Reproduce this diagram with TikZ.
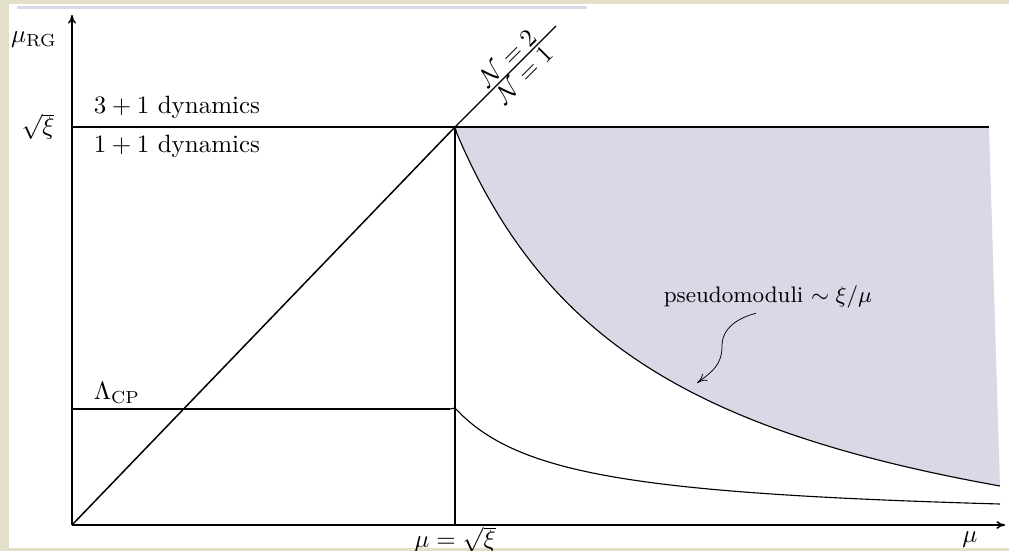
\documentclass[tikz,border=0pt]{standalone}
\usepackage{amsmath}
\usepackage{xcolor}
\usetikzlibrary{arrows.meta,calc}
\definecolor{slidebg}{RGB}{228,223,200}
\definecolor{modshade}{RGB}{216,216,230}
\definecolor{rulelav}{RGB}{218,216,234}
\tikzset{
  axisline/.style={-{To[length=1.2mm,width=1.1mm]}, line width=0.6pt},
  level/.style={line width=0.6pt},
  decay/.style={line width=0.45pt},
  lbl/.style={inner sep=1pt},
  wiggle/.style={-{To[length=1.4mm,width=1.2mm]}, line width=0.3pt},
}
\begin{document}
\begin{tikzpicture}[x=0.4pt, y=-0.4pt]
  \useasboundingbox (0,0) rectangle (1009,551);
  % slide frame
  \fill[slidebg] (0,0) rectangle (1009,551);
  \fill[white] (9,4) rectangle (1009,548);
  \draw[rulelav, line width=1.2pt] (17,8) -- (587,8);

  \coordinate (origin) at (72,525);
  \coordinate (ymax) at (72,15);
  \coordinate (xmax) at (1005,525);
  \coordinate (top) at (455,127);
  \coordinate (foot) at (455,525);
  \coordinate (nend) at (556,26);
  \coordinate (lamleft) at (72,409);
  \coordinate (lamright) at (450,409);
  \coordinate (sqleft) at (72,127);
  \coordinate (sqright) at (989,127);

  % pseudomoduli region
  \fill[modshade] (top) -- plot[domain=457:1000, samples=80]
    (\x, {620.26 - 1006.92/((\x-250)/100)}) -- (sqright) -- cycle;

  % axes
  \draw[axisline] (origin) -- (ymax);
  \draw[axisline] (origin) -- (xmax);

  % levels
  \draw[level] (sqleft) -- (sqright);
  \draw[level] (lamleft) -- (lamright);
  \draw[level] (foot) -- (top);
  \draw[level] (origin) -- (top);
  \draw[decay] (top) -- (nend)
    node[pos=0.6, sloped, above, lbl] (ntwo) {$\mathcal{N}=2$}
    node[pos=0.6, sloped, below, lbl] (none) {$\mathcal{N}=1$};

  % decaying curves
  \draw[decay] (top) -- plot[domain=457:1000, samples=80]
    (\x, {620.26 - 1006.92/((\x-250)/100)});
  \draw[decay] (lamright) -- plot[domain=455:1000, samples=80]
    (\x, {522.5 - 120.15/((\x-350)/100)});

  % labels
  \node[lbl] (murg) at (34,40) {$\mu_{\mathrm{RG}}$};
  \node[lbl] (sqxi) at (38,127) {$\sqrt{\xi}$};
  \node[lbl] (upper) at (177,107) {$3+1$ dynamics};
  \node[lbl] (lower) at (177,146) {$1+1$ dynamics};
  \node[lbl] (lamcp) at (117,393) {$\Lambda_{\mathrm{CP}}$};
  \node[lbl] (mueq) at (455,540) {$\mu=\sqrt{\xi}$};
  \node[lbl] (muax) at (970,540) {$\mu$};
  \node[lbl, font=\small] (pseudo) at (768,297) {pseudomoduli $\sim\xi/\mu$};

  \coordinate (tip) at (697,383);
  \draw[wiggle] ($(pseudo.south)+(-12,2)$) .. controls (738,318) and (722,328) .. (722,346)
    .. controls (722,365) and (712,372) .. (tip);
\end{tikzpicture}
\end{document}
